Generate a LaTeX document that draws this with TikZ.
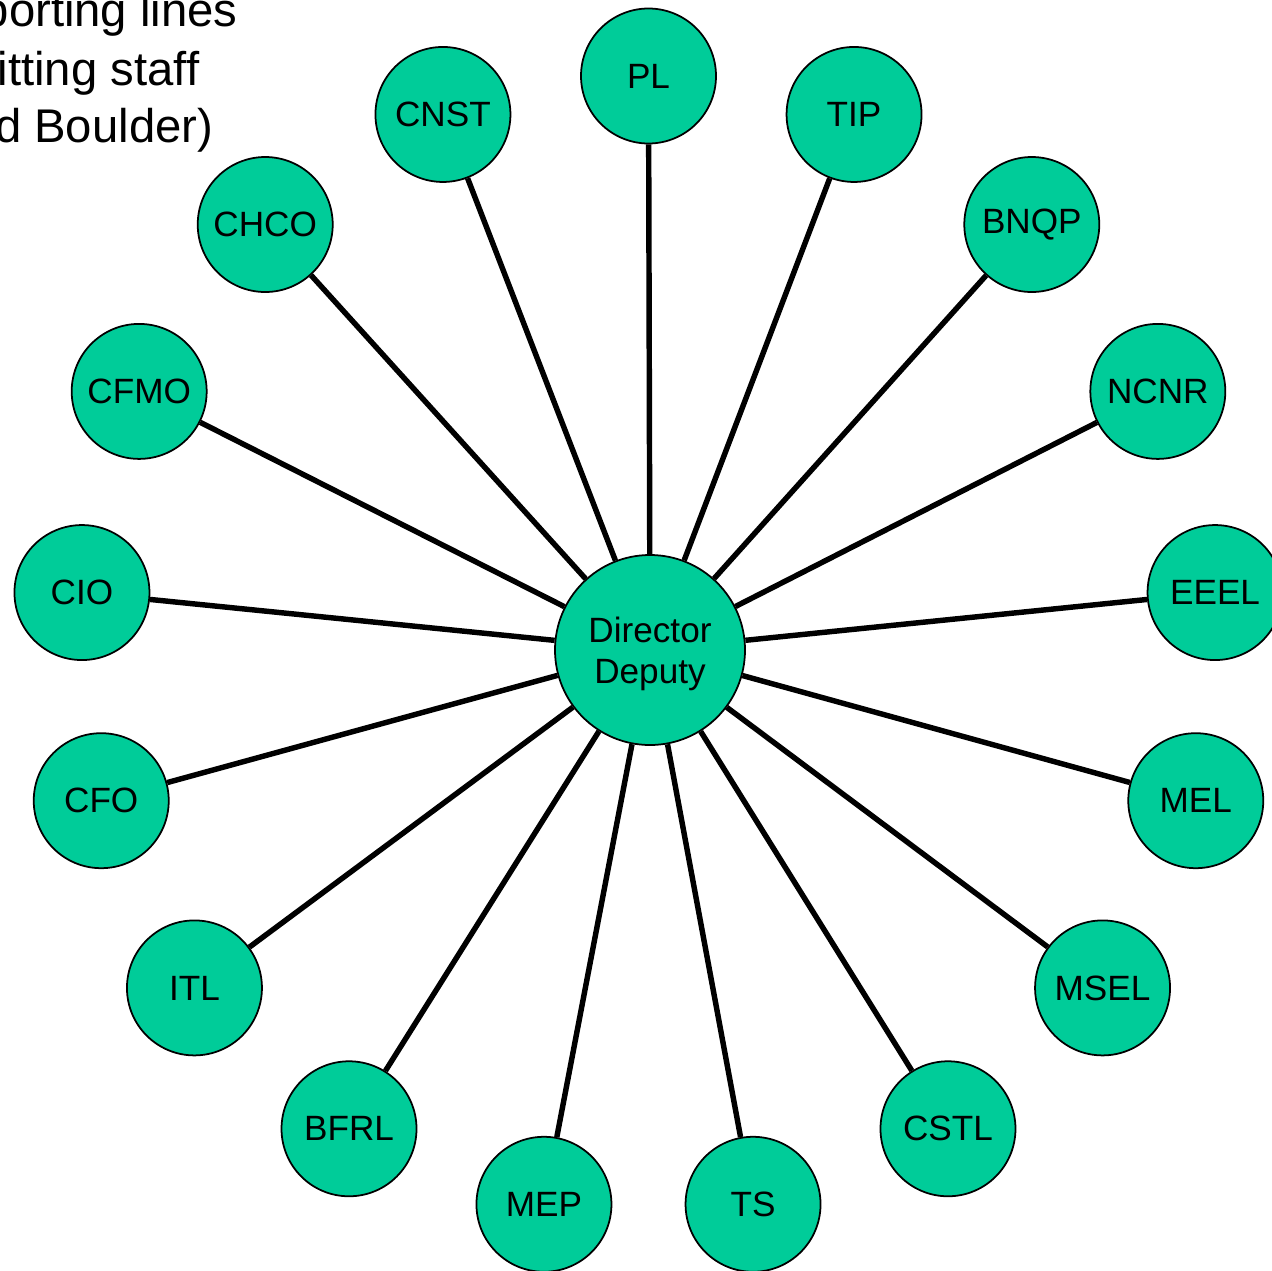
\documentclass[tikz,border=0pt]{standalone}
\usepackage{fontspec}
\setmainfont{Liberation Sans}
\definecolor{verde}{HTML}{00CC99}

\begin{document}
\begin{tikzpicture}[
  every node/.style={inner sep=0pt},
  unidade/.style={draw, circle, fill=verde, line width=1pt, minimum size=2.7cm, font=\fontsize{20}{23.3}\selectfont},
  ligacao/.style={line width=3.1pt}
]
\tikzset{
  direcao/.style={unidade, minimum size=3.8cm, align=center},
  titulo/.style={anchor=base east, font=\fontsize{26.9}{32}\selectfont}
}
\useasboundingbox (0,0) rectangle (25.44,-25.4);
\clip (0,0) rectangle (25.44,-25.4);

% texto cortado no canto
\node[titulo] (linha1) at (4.76,-0.54) {porting lines};
\node[titulo] (linha2) at (3.99,-1.70) {itting staff};
\node[titulo] (linha3) at (4.27,-2.84) {d Boulder)};

\node[direcao] (dir) at (13.0,-13.0) {\rule{0pt}{0.66cm}Director\\Deputy};

\begin{scope}[shift={(12.97,-12.90)}]
  \node[unidade] (PL)   at (90:11.38)      {PL};
  \node[unidade] (TIP)  at (68.82:11.38)   {TIP};
  \node[unidade] (BNQP) at (47.65:11.38)   {BNQP};
  \node[unidade] (NCNR) at (26.47:11.38)   {NCNR};
  \node[unidade] (EEEL) at (5.29:11.38)    {EEEL};
  \node[unidade] (MEL)  at (-15.88:11.38)  {MEL};
  \node[unidade] (MSEL) at (-37.06:11.38)  {MSEL};
  \node[unidade] (CSTL) at (-58.24:11.38)  {CSTL};
  \node[unidade] (TS)   at (-79.41:11.38)  {TS};
  \node[unidade] (MEP)  at (-100.59:11.38) {MEP};
  \node[unidade] (BFRL) at (-121.76:11.38) {BFRL};
  \node[unidade] (ITL)  at (-142.94:11.38) {ITL};
  \node[unidade] (CFO)  at (-164.12:11.38) {CFO};
  \node[unidade] (CIO)  at (174.71:11.38)  {CIO};
  \node[unidade] (CFMO) at (153.53:11.38)  {CFMO};
  \node[unidade] (CHCO) at (132.35:11.38)  {CHCO};
  \node[unidade] (CNST) at (111.18:11.38)  {CNST};
\end{scope}

% linhas de subordinacao
\foreach \u in {PL,TIP,BNQP,NCNR,EEEL,MEL,MSEL,CSTL,TS,MEP,BFRL,ITL,CFO,CIO,CFMO,CHCO,CNST}
  \draw[ligacao] (dir) -- (\u);
\end{tikzpicture}
\end{document}
